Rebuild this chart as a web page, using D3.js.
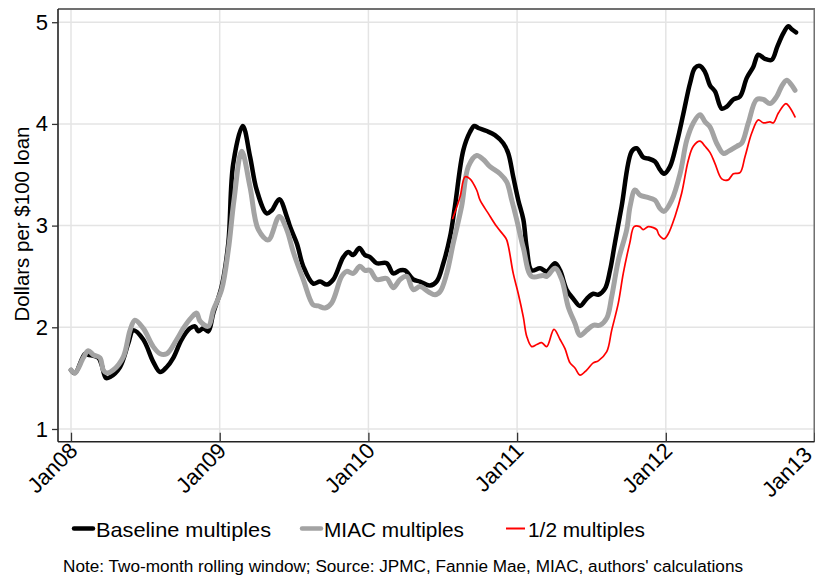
<!DOCTYPE html>
<html><head><meta charset="utf-8">
<script src="https://cdn.jsdelivr.net/npm/d3@7"></script>
<style>body{margin:0;background:#fff}svg{display:block;font-family:"Liberation Sans",Arial,sans-serif}</style>
</head><body><svg id="c" width="815" height="577"></svg>
<script>
const yearTicks = [2008, 2009, 2010, 2011, 2012, 2013];
const yearLabels = ["Jan08", "Jan09", "Jan10", "Jan11", "Jan12", "Jan13"];
const valueTicks = [1, 2, 3, 4, 5];
const seriesNames = ["Baseline multiples", "MIAC multiples", "1/2 multiples"];

const baseline = [[2008.000,1.58],[2008.027,1.55],[2008.094,1.74],[2008.116,1.73],[2008.184,1.70],[2008.206,1.63],[2008.235,1.50],[2008.262,1.51],[2008.330,1.61],[2008.385,1.84],[2008.419,1.97],[2008.486,1.88],[2008.553,1.66],[2008.599,1.56],[2008.644,1.61],[2008.688,1.70],[2008.744,1.88],[2008.800,1.99],[2008.834,2.01],[2008.856,1.96],[2008.890,1.99],[2008.923,1.96],[2008.957,2.14],[2009.013,2.40],[2009.058,2.83],[2009.091,3.61],[2009.155,3.98],[2009.204,3.68],[2009.249,3.35],[2009.316,3.12],[2009.350,3.15],[2009.401,3.26],[2009.451,3.09],[2009.473,2.99],[2009.520,2.82],[2009.562,2.60],[2009.629,2.43],[2009.675,2.45],[2009.720,2.42],[2009.764,2.47],[2009.831,2.69],[2009.865,2.74],[2009.898,2.71],[2009.939,2.78],[2009.977,2.71],[2010.011,2.69],[2010.056,2.63],[2010.123,2.63],[2010.167,2.53],[2010.213,2.56],[2010.246,2.56],[2010.302,2.47],[2010.347,2.45],[2010.414,2.41],[2010.459,2.45],[2010.504,2.63],[2010.549,2.89],[2010.582,3.19],[2010.638,3.74],[2010.683,3.92],[2010.712,3.98],[2010.739,3.96],[2010.796,3.93],[2010.851,3.89],[2010.907,3.81],[2010.941,3.71],[2010.974,3.48],[2011.008,3.25],[2011.042,3.06],[2011.065,2.78],[2011.098,2.56],[2011.154,2.58],[2011.199,2.55],[2011.255,2.63],[2011.289,2.56],[2011.333,2.37],[2011.378,2.28],[2011.423,2.21],[2011.468,2.28],[2011.512,2.33],[2011.546,2.32],[2011.591,2.38],[2011.625,2.56],[2011.658,2.83],[2011.703,3.19],[2011.771,3.73],[2011.804,3.76],[2011.849,3.67],[2011.882,3.66],[2011.927,3.63],[2011.961,3.55],[2011.988,3.51],[2012.028,3.58],[2012.073,3.81],[2012.118,4.10],[2012.163,4.40],[2012.196,4.55],[2012.230,4.57],[2012.264,4.51],[2012.297,4.38],[2012.331,4.32],[2012.376,4.15],[2012.410,4.17],[2012.454,4.24],[2012.499,4.27],[2012.544,4.45],[2012.588,4.56],[2012.622,4.68],[2012.667,4.64],[2012.712,4.63],[2012.750,4.76],[2012.790,4.89],[2012.824,4.96],[2012.847,4.93],[2012.876,4.90]];

const miac = [[2008.000,1.58],[2008.027,1.55],[2008.083,1.70],[2008.116,1.77],[2008.150,1.73],[2008.195,1.70],[2008.217,1.58],[2008.240,1.55],[2008.284,1.58],[2008.352,1.71],[2008.397,1.97],[2008.430,2.07],[2008.486,1.99],[2008.553,1.81],[2008.599,1.74],[2008.644,1.74],[2008.711,1.88],[2008.755,1.99],[2008.812,2.10],[2008.845,2.14],[2008.868,2.06],[2008.923,2.01],[2008.957,2.17],[2009.013,2.37],[2009.058,2.76],[2009.096,3.25],[2009.148,3.73],[2009.204,3.38],[2009.260,2.96],[2009.327,2.86],[2009.401,3.09],[2009.451,2.96],[2009.495,2.74],[2009.562,2.47],[2009.629,2.22],[2009.663,2.21],[2009.708,2.19],[2009.753,2.24],[2009.820,2.50],[2009.854,2.55],[2009.898,2.53],[2009.943,2.60],[2009.977,2.56],[2010.011,2.56],[2010.056,2.47],[2010.123,2.48],[2010.167,2.39],[2010.213,2.47],[2010.258,2.50],[2010.302,2.37],[2010.347,2.40],[2010.403,2.35],[2010.448,2.32],[2010.482,2.35],[2010.527,2.53],[2010.571,2.83],[2010.627,3.19],[2010.672,3.58],[2010.728,3.69],[2010.773,3.65],[2010.818,3.58],[2010.885,3.51],[2010.930,3.43],[2010.964,3.25],[2010.997,3.06],[2011.042,2.78],[2011.098,2.50],[2011.176,2.51],[2011.199,2.50],[2011.255,2.58],[2011.300,2.47],[2011.344,2.20],[2011.389,2.04],[2011.423,1.92],[2011.468,1.97],[2011.512,2.02],[2011.557,2.02],[2011.603,2.09],[2011.636,2.30],[2011.681,2.66],[2011.737,2.96],[2011.760,3.19],[2011.793,3.35],[2011.827,3.30],[2011.872,3.28],[2011.927,3.25],[2011.961,3.17],[2011.988,3.14],[2012.040,3.25],[2012.096,3.51],[2012.141,3.84],[2012.185,4.01],[2012.230,4.09],[2012.264,4.02],[2012.297,3.97],[2012.342,3.81],[2012.387,3.71],[2012.420,3.73],[2012.477,3.78],[2012.510,3.81],[2012.555,4.01],[2012.611,4.24],[2012.656,4.24],[2012.701,4.20],[2012.746,4.27],[2012.779,4.37],[2012.813,4.43],[2012.847,4.38],[2012.869,4.33]];

const half = [[2010.567,3.07],[2010.616,3.28],[2010.650,3.48],[2010.683,3.46],[2010.728,3.35],[2010.751,3.25],[2010.806,3.12],[2010.863,2.99],[2010.907,2.91],[2010.930,2.86],[2010.974,2.53],[2011.008,2.33],[2011.042,2.10],[2011.065,1.91],[2011.098,1.81],[2011.132,1.83],[2011.165,1.85],[2011.199,1.81],[2011.248,1.98],[2011.289,1.88],[2011.322,1.79],[2011.356,1.65],[2011.389,1.60],[2011.423,1.53],[2011.468,1.58],[2011.512,1.65],[2011.546,1.67],[2011.603,1.76],[2011.636,1.97],[2011.681,2.24],[2011.714,2.53],[2011.758,2.83],[2011.787,2.99],[2011.825,2.99],[2011.848,2.96],[2011.882,2.99],[2011.916,2.98],[2011.939,2.96],[2011.954,2.91],[2011.988,2.87],[2012.017,2.92],[2012.062,3.09],[2012.107,3.32],[2012.151,3.64],[2012.185,3.78],[2012.230,3.83],[2012.264,3.78],[2012.297,3.72],[2012.331,3.61],[2012.376,3.46],[2012.420,3.45],[2012.454,3.51],[2012.499,3.52],[2012.533,3.68],[2012.578,3.91],[2012.622,4.04],[2012.656,4.01],[2012.701,4.02],[2012.723,4.01],[2012.758,4.11],[2012.808,4.20],[2012.835,4.16],[2012.869,4.07]];

const svg = d3.select("#c");
const L = 58, R = 814.5, T = 9, B = 441.7;
const x = d3.scaleLinear().domain([2008 - 13/148.7, 2013]).range([L, R]);
const y = d3.scaleLinear().domain([0.875, 5.13]).range([B, T]);

// grid
svg.append("g").selectAll("line.h").data(valueTicks).join("line")
  .attr("x1", L).attr("x2", R).attr("y1", d => y(d)).attr("y2", d => y(d))
  .attr("stroke", "#e4e4e4").attr("stroke-width", 1.5);
svg.append("g").selectAll("line.v").data(yearTicks).join("line")
  .attr("x1", d => x(d)).attr("x2", d => x(d)).attr("y1", T).attr("y2", B)
  .attr("stroke", "#e4e4e4").attr("stroke-width", 1.5);

// frame top/right
svg.append("path").attr("d", `M${L},${T}H${R}V${B}`).attr("fill", "none")
  .attr("stroke", "#707070").attr("stroke-width", 2);

// axes
const yAxis = d3.axisLeft(y).tickValues(valueTicks).tickSize(6).tickPadding(4).tickFormat(d3.format("d"));
const gy = svg.append("g").attr("transform", `translate(${L},0)`).call(yAxis);
gy.select(".domain").attr("stroke", "#222").attr("stroke-width", 1.6).attr("d", `M0,${T}V${B}`);
gy.selectAll(".tick line").attr("stroke", "#333").attr("stroke-width", 1.3);
gy.selectAll(".tick text").attr("font-size", 22).attr("fill", "#000").attr("font-family", "Liberation Sans, Arial, sans-serif");

const xAxis = d3.axisBottom(x).tickValues(yearTicks).tickSize(-9).tickFormat((d, i) => yearLabels[i]);
const gx = svg.append("g").attr("transform", `translate(0,${B})`).call(xAxis);
gx.select(".domain").attr("stroke", "#222").attr("stroke-width", 1.6).attr("d", `M${L},0H${R}`);
gx.selectAll(".tick line").attr("stroke", "#333").attr("stroke-width", 1.3);
gx.selectAll(".tick text").attr("font-size", 22).attr("fill", "#000")
  .attr("font-family", "Liberation Sans, Arial, sans-serif")
  .attr("text-anchor", "end").attr("dy", null).attr("y", 0)
  .attr("transform", (d, i) => i === yearTicks.length - 1 ? "translate(-13,3) rotate(-45)" : "translate(-4,-1) rotate(-45)")
  .attr("dominant-baseline", "hanging");

// y label
svg.append("text").attr("transform", "translate(29,224) rotate(-90)")
  .attr("text-anchor", "middle").attr("font-size", 20.5).text("Dollars per $100 loan");

// lines
const line = d3.line().x(d => x(d[0])).y(d => y(d[1])).curve(d3.curveCatmullRom.alpha(0.5));
const styles = [
  {data: baseline, color: "#000", w: 4.5},
  {data: miac, color: "#a3a3a3", w: 5},
  {data: half, color: "#ff0000", w: 1.7}
];
styles.forEach(s => svg.append("path").datum(s.data).attr("d", line)
  .attr("fill", "none").attr("stroke", s.color).attr("stroke-width", s.w)
  .attr("stroke-linejoin", "round").attr("stroke-linecap", "round"));

// legend
const legX = [74, 302, 506];
const legW = [175, 140, 117];
const lg = svg.append("g");
styles.forEach((s, i) => {
  lg.append("line").attr("x1", legX[i]).attr("x2", legX[i] + 19).attr("y1", 528.5).attr("y2", 528.5)
    .attr("stroke", s.color).attr("stroke-width", i === 2 ? 2 : 4.5).attr("stroke-linecap", i === 2 ? "butt" : "round");
  lg.append("text").attr("x", legX[i] + 22).attr("y", 536.5).attr("font-size", 21)
    .attr("textLength", legW[i]).attr("lengthAdjust", "spacingAndGlyphs").text(seriesNames[i]);
});

svg.append("text").attr("x", 63).attr("y", 572).attr("font-size", 16)
  .attr("textLength", 680).attr("lengthAdjust", "spacingAndGlyphs")
  .text("Note: Two-month rolling window; Source: JPMC, Fannie Mae, MIAC, authors' calculations");
</script></body></html>
